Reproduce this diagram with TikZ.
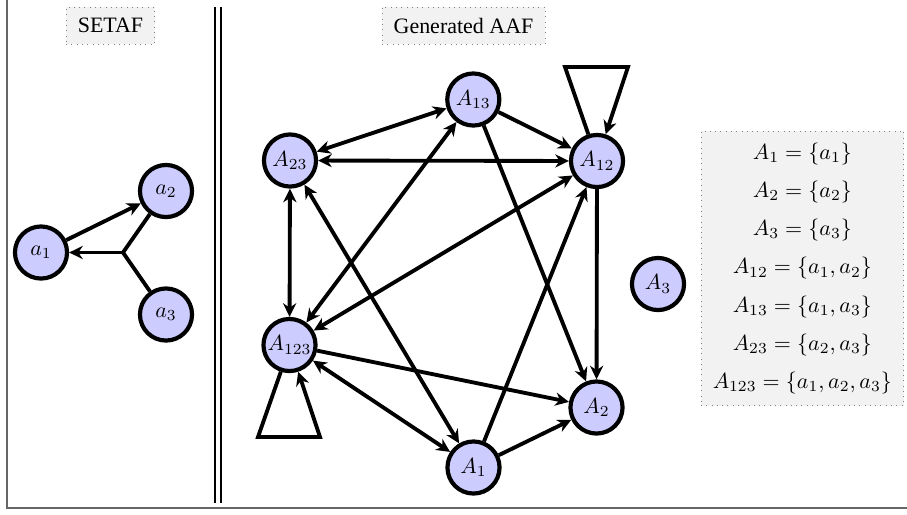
\documentclass[tikz,border=0pt]{standalone}
\usepackage[no-math]{fontspec}
\setmainfont{Liberation Serif}
\usetikzlibrary{arrows.meta}
\begin{document}
\begin{tikzpicture}[x=0.455pt,y=-0.455pt,
  >={Stealth[length=6.2pt,width=6pt,inset=2pt]},
  arg/.style={circle,draw=black,line width=1.9pt,fill=blue!20,minimum size=23.7pt,inner sep=0pt},
  att/.style={line width=1.75pt},
  lbl/.style={draw=gray,dotted,fill=gray!10,inner xsep=5.3pt,minimum height=16.8pt},
  framestyle/.style={draw=black!60,line width=0.9pt},
  sepline/.style={line width=1pt}]
\useasboundingbox (0,0) rectangle (907,514);
% frame
\draw[framestyle] (7,-10) -- (7,508) -- (920,508);
% separator
\draw[sepline] (215,7) -- (215,503);
\draw[sepline] (221,7) -- (221,503);
% titles
\node[lbl] (setaf) at (110.5,25.7) {SETAF};
\node[lbl] (gaaf) at (463.5,25.7) {Generated AAF};
% SETAF
\node[arg] (a1) at (41,252.5) {$a_1$};
\node[arg] (a2) at (166,191) {$a_2$};
\node[arg] (a3) at (166,314.5) {$a_3$};
\coordinate (J) at (123,252.5);
\draw[att,->] (a1) -- (a2);
\draw[att] (a2) -- (J) -- (a3);
\draw[att,->] (J) -- (a1);
% AAF
\node[arg] (A13) at (473.3,99.5) {$A_{13}$};
\node[arg] (A23) at (290,160.5) {$A_{23}$};
\node[arg] (A12) at (597,161) {$A_{12}$};
\node[arg] (A123) at (289.5,345) {$A_{123}$};
\node[arg] (A2) at (596.5,407.5) {$A_2$};
\node[arg] (A1) at (473.5,467.5) {$A_1$};
\node[arg] (A3) at (658,284) {$A_3$};
\draw[att,<->] (A23) -- (A13);
\draw[att,<->] (A23) -- (A12);
\draw[att,->] (A13) -- (A12);
\draw[att,<->] (A23) -- (A123);
\draw[att,<->] (A13) -- (A123);
\draw[att,<->] (A12) -- (A123);
\draw[att,<->] (A1) -- (A23);
\draw[att,<->] (A123) -- (A1);
\draw[att,->] (A123) -- (A2);
\draw[att,->] (A1) -- (A12);
\draw[att,->] (A1) -- (A2);
\draw[att,->] (A13) -- (A2);
\draw[att,->] (A12) -- (A2);
% self loops
\coordinate (l1a) at (565,67);
\coordinate (l1b) at (628,67);
\draw[att,->] (A12.108) -- (l1a) -- (l1b) -- (A12.72);
\coordinate (l2a) at (258,437);
\coordinate (l2b) at (320,437);
\draw[att,->] (A123.-108) -- (l2a) -- (l2b) -- (A123.-72);
% definitions
\node[lbl,minimum width=91.5pt,minimum height=125pt,align=center] (defs) at (802.3,268.3)
  {$A_1=\{a_1\}$\\[5.4pt]
   $A_2=\{a_2\}$\\[5.4pt]
   $A_3=\{a_3\}$\\[5.4pt]
   $A_{12}=\{a_1,a_2\}$\\[5.4pt]
   $A_{13}=\{a_1,a_3\}$\\[5.4pt]
   $A_{23}=\{a_2,a_3\}$\\[5.4pt]
   $A_{123}=\{a_1,a_2,a_3\}$};
\end{tikzpicture}
\end{document}
